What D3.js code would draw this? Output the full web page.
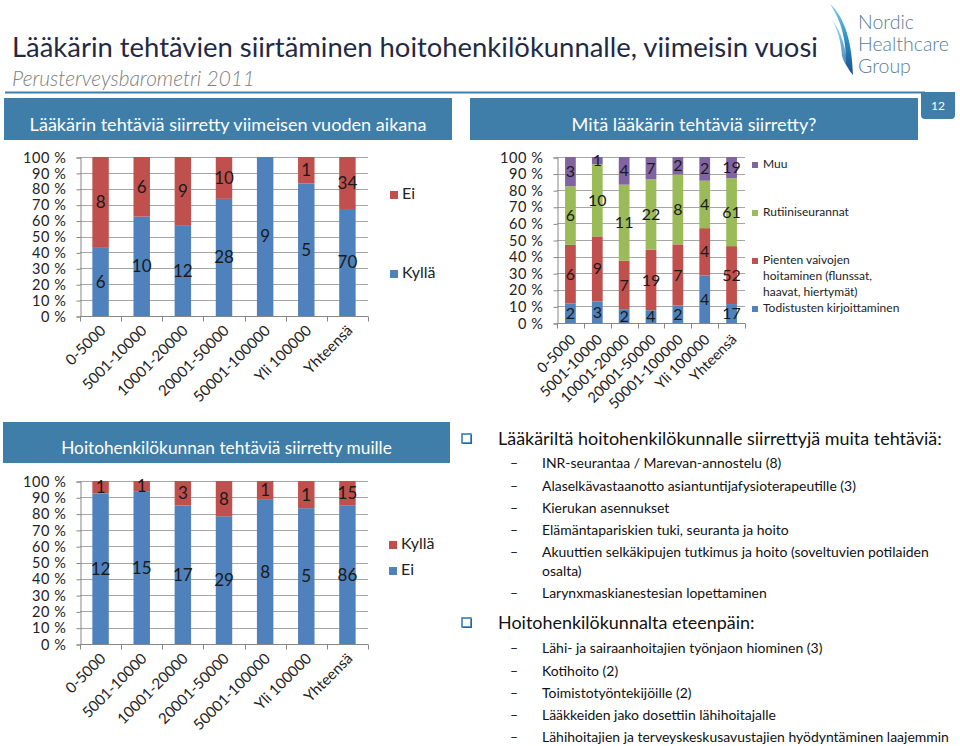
<!DOCTYPE html>
<html><head><meta charset="utf-8">
<script src="https://cdn.jsdelivr.net/npm/d3@7"></script>
<style>body{margin:0;background:#fff} svg{display:block}</style>
</head><body>
<svg id="c" width="960" height="746"></svg>
<script>
// ---------- DATA ----------
const categories = ["0-5000","5001-10000","10001-20000","20001-50000","50001-100000","Yli 100000","Yhteensä"];
const yTickValues = [0,0.1,0.2,0.3,0.4,0.5,0.6,0.7,0.8,0.9,1];
const yTickLabels = ["0 %","10 %","20 %","30 %","40 %","50 %","60 %","70 %","80 %","90 %","100 %"];

// Chart 1: Lääkärin tehtäviä siirretty viimeisen vuoden aikana
const c1Kylla = [6,10,12,28,9,5,70];
const c1Ei    = [8,6,9,10,0,1,34];

// Chart 2: Mitä lääkärin tehtäviä siirretty?
const c2Todistusten = [2,3,2,4,2,4,17];
const c2Pienten     = [6,9,7,19,7,4,52];
const c2Rutiini     = [6,10,11,22,8,4,61];
const c2Muu         = [3,1,4,7,2,2,19];

// Chart 3: Hoitohenkilökunnan tehtäviä siirretty muille
const c3Ei    = [12,15,17,29,8,5,86];
const c3Kylla = [1,1,3,8,1,1,15];

const titleText = "Lääkärin tehtävien siirtäminen hoitohenkilökunnalle, viimeisin vuosi";
const subtitleText = "Perusterveysbarometri 2011";
const header1 = "Lääkärin tehtäviä siirretty viimeisen vuoden aikana";
const header2 = "Mitä lääkärin tehtäviä siirretty?";
const header3 = "Hoitohenkilökunnan tehtäviä siirretty muille";
const bullet1 = "Lääkäriltä hoitohenkilökunnalle siirrettyjä muita tehtäviä:";
const bullet1Items = [
  ["INR-seurantaa / Marevan-annostelu (8)"],
  ["Alaselkävastaanotto asiantuntijafysioterapeutille (3)"],
  ["Kierukan asennukset"],
  ["Elämäntapariskien tuki, seuranta ja hoito"],
  ["Akuuttien selkäkipujen tutkimus ja hoito (soveltuvien potilaiden","osalta)"],
  ["Larynxmaskianestesian lopettaminen"]
];
const bullet2 = "Hoitohenkilökunnalta eteenpäin:";
const bullet2Items = [
  ["Lähi- ja sairaanhoitajien työnjaon hiominen (3)"],
  ["Kotihoito (2)"],
  ["Toimistotyöntekijöille (2)"],
  ["Lääkkeiden jako dosettiin lähihoitajalle"],
  ["Lähihoitajien ja terveyskeskusavustajien hyödyntäminen laajemmin"]
];
const pageNumber = "12";
const logoLines = ["Nordic","Healthcare","Group"];

// ---------- STYLE ----------
const FONT = "Lato, 'Open Sans', sans-serif";
const BLUE = "#4f81bd", RED = "#c0504d", GREEN = "#9bbb59", PURPLE = "#8064a2";
const HEAD = "#3e7ea9";
const svg = d3.select("#c").style("font-family", FONT);

function fitText(sel, width) {
  const node = sel.node();
  const fs = parseFloat(sel.attr("font-size"));
  const w = node.getComputedTextLength();
  sel.attr("font-size", (fs * width / w).toFixed(2));
}

// ---------- TITLE ----------
const t = svg.append("text").attr("x", 12).attr("y", 57).attr("font-size", 27)
  .attr("fill", "#1f2a44").text(titleText);
fitText(t, 806);
const st = svg.append("text").attr("x", 12).attr("y", 86).attr("font-size", 19)
  .attr("font-style", "italic").attr("fill", "#808080").attr("font-weight", 300).text(subtitleText);
fitText(st, 243);
svg.append("line").attr("x1", 5).attr("x2", 925).attr("y1", 92.5).attr("y2", 92.5)
  .attr("stroke", HEAD).attr("stroke-width", 2);

// page number box
svg.append("rect").attr("x", 921).attr("y", 92).attr("width", 34).attr("height", 27).attr("rx", 4).attr("fill", HEAD);
svg.append("rect").attr("x", 921).attr("y", 92).attr("width", 34).attr("height", 6).attr("fill", HEAD);
svg.append("text").attr("x", 938).attr("y", 110).attr("text-anchor", "middle").attr("font-size", 12)
  .attr("fill", "#fff").text(pageNumber);

// logo
const defs = svg.append("defs");
const grad = defs.append("linearGradient").attr("id", "sw").attr("x1", 0).attr("y1", 0).attr("x2", 0).attr("y2", 1);
grad.append("stop").attr("offset", 0).attr("stop-color", "#7fd0e8");
grad.append("stop").attr("offset", 0.5).attr("stop-color", "#2a8fc4");
grad.append("stop").attr("offset", 1).attr("stop-color", "#1b4f8c");
svg.append("path").attr("d", "M830,4 C846,18 852,45 853,75 C850,72 848,68 846,64 C846,40 842,22 830,4 Z").attr("fill", "url(#sw)");
svg.append("path").attr("d", "M832,20 C842,32 846,50 848,68 C845,64 843,60 842,56 C841,42 838,30 832,20 Z").attr("fill", "url(#sw)").attr("opacity", 0.7);
logoLines.forEach((s, i) => {
  const lt = svg.append("text").attr("x", 858).attr("y", 29 + i * 22).attr("font-size", 19.5).attr("font-weight", 300)
    .attr("fill", "#5b7e93").text(s);
});

// ---------- HEADER BOXES ----------
function headerBox(x, y, w, h, text, tw) {
  svg.append("rect").attr("x", x).attr("y", y).attr("width", w).attr("height", h).attr("fill", HEAD);
  const tt = svg.append("text").attr("x", x + w / 2).attr("y", y + h - 9).attr("text-anchor", "middle")
    .attr("font-size", 18).attr("fill", "#fff").text(text);
  fitText(tt, tw);
}
headerBox(4, 98, 448, 42, header1, 397);
headerBox(470, 98, 448, 42, header2, 245);
headerBox(3, 422, 447, 41, header3, 331);

// ---------- STACKED CHART ----------
function stackedChart(o) {
  const g = svg.append("g");
  const x = d3.scaleBand().domain(categories).range([o.x0, o.x1]).paddingInner(0.6).paddingOuter(0.3);
  const xb = d3.scaleBand().domain(categories).range([o.x0, o.x1]);
  const y = d3.scaleLinear().domain([0, 1]).range([o.yb, o.yt]);
  // gridlines
  g.append("g").selectAll("line").data(yTickValues.slice(1)).join("line")
    .attr("x1", o.x0).attr("x2", o.x1).attr("y1", d => Math.round(y(d)) + 0.5).attr("y2", d => Math.round(y(d)) + 0.5)
    .attr("stroke", "#a6a6a6").attr("stroke-width", 1);
  // y axis
  const ya = d3.axisLeft(y).tickValues(yTickValues).tickFormat((d, i) => yTickLabels[i]).tickSize(4).tickPadding(10);
  const yg = g.append("g").attr("transform", `translate(${o.x0 + 0.5},0.5)`).call(ya);
  yg.select(".domain").attr("stroke", "#868686");
  yg.selectAll(".tick line").attr("stroke", "#868686");
  yg.selectAll("text").attr("font-size", o.tickFs).attr("font-family", FONT).attr("fill", "#222")
    .attr("letter-spacing", 0.6);
  // stack
  const rows = categories.map((c, i) => {
    const r = { cat: c };
    o.series.forEach(s => r[s.name] = s.values[i]);
    return r;
  });
  const stack = d3.stack().keys(o.series.map(s => s.name)).offset(d3.stackOffsetExpand);
  const layers = stack(rows);
  layers.forEach((layer, li) => {
    const s = o.series[li];
    g.append("g").selectAll("rect").data(layer).join("rect")
      .attr("x", d => x(d.data.cat)).attr("width", x.bandwidth())
      .attr("y", d => y(d[1])).attr("height", d => y(d[0]) - y(d[1]))
      .attr("fill", s.color);
    g.append("g").selectAll("text").data(layer.filter(d => d.data[s.name] > 0)).join("text")
      .attr("x", d => x(d.data.cat) + x.bandwidth() / 2)
      .attr("y", d => (y(d[0]) + y(d[1])) / 2).attr("dy", "0.35em")
      .attr("text-anchor", "middle").attr("font-size", o.labelFs).attr("fill", "#1a1a1a")
      .text(d => d.data[s.name]);
  });
  // x axis
  const xg = g.append("g").attr("transform", `translate(0,${o.yb + 0.5})`);
  xg.append("line").attr("x1", o.x0).attr("x2", o.x1).attr("stroke", "#868686");
  const ticks = categories.map(c => xb(c)).concat([o.x1]);
  xg.selectAll("line.t").data(ticks).join("line").attr("class", "t")
    .attr("x1", d => Math.round(d) + 0.5).attr("x2", d => Math.round(d) + 0.5).attr("y1", 0).attr("y2", 5)
    .attr("stroke", "#868686");
  xg.selectAll("text").data(categories).join("text")
    .attr("transform", c => `translate(${x(c) + x.bandwidth() / 2 + o.lblDx},${o.lblDy}) rotate(-45)`)
    .attr("text-anchor", "end").attr("font-size", o.xFs).attr("fill", "#222").text(c => c);
  // legend
  o.legend.forEach(l => {
    g.append("rect").attr("x", o.legX).attr("y", l.y - o.sq).attr("width", o.sq).attr("height", o.sq).attr("fill", l.color);
    l.lines.forEach((ln, k) => {
      g.append("text").attr("x", o.legX + o.sq + o.legGap).attr("y", l.y + k * o.legLine).attr("font-size", o.legFs)
        .attr("fill", "#222").text(ln);
    });
  });
}

stackedChart({
  x0: 80, x1: 368, yb: 316, yt: 157, tickFs: 14.5, labelFs: 17, xFs: 15, lblDx: 6, lblDy: 15,
  series: [{ name: "Kyllä", values: c1Kylla, color: BLUE }, { name: "Ei", values: c1Ei, color: RED }],
  legX: 390, sq: 8, legGap: 4, legFs: 16, legLine: 18,
  legend: [{ y: 199, color: RED, lines: ["Ei"] }, { y: 278, color: BLUE, lines: ["Kyllä"] }]
});

stackedChart({
  x0: 557, x1: 745, yb: 323, yt: 157, tickFs: 14.5, labelFs: 16, xFs: 14.5, lblDx: 6, lblDy: 17,
  series: [
    { name: "Todistusten", values: c2Todistusten, color: BLUE },
    { name: "Pienten", values: c2Pienten, color: RED },
    { name: "Rutiini", values: c2Rutiini, color: GREEN },
    { name: "Muu", values: c2Muu, color: PURPLE }
  ],
  legX: 752, sq: 6, legGap: 5, legFs: 12, legLine: 16,
  legend: [
    { y: 168, color: PURPLE, lines: ["Muu"] },
    { y: 216, color: GREEN, lines: ["Rutiiniseurannat"] },
    { y: 264, color: RED, lines: ["Pienten vaivojen", "hoitaminen (flunssat,", "haavat, hiertymät)"] },
    { y: 312, color: BLUE, lines: ["Todistusten kirjoittaminen"] }
  ]
});

stackedChart({
  x0: 80, x1: 368, yb: 644, yt: 481, tickFs: 14.5, labelFs: 17, xFs: 15, lblDx: 6, lblDy: 15,
  series: [{ name: "Ei", values: c3Ei, color: BLUE }, { name: "Kyllä", values: c3Kylla, color: RED }],
  legX: 389, sq: 8, legGap: 4, legFs: 16, legLine: 18,
  legend: [{ y: 549, color: RED, lines: ["Kyllä"] }, { y: 575, color: BLUE, lines: ["Ei"] }]
});

// ---------- TEXT LIST ----------
function bulletSquare(x, y) {
  svg.append("rect").attr("x", x + 1).attr("y", y + 1).attr("width", 9).attr("height", 9).attr("fill", "#17375e");
  svg.append("rect").attr("x", x).attr("y", y).attr("width", 9).attr("height", 9).attr("fill", "#fff")
    .attr("stroke", "#2e75b6").attr("stroke-width", 1.5);
}
bulletSquare(462, 434);
const h1 = svg.append("text").attr("x", 498).attr("y", 445).attr("font-size", 17).attr("fill", "#111").text(bullet1);
fitText(h1, 444);
const headFs = h1.attr("font-size");

// measure sub-item font size using the longest line
const probe = svg.append("text").attr("font-size", 14).text(bullet2Items[4][0]);
fitText(probe, 407);
const itemFs = probe.attr("font-size");
probe.remove();

const item1Y = [468, 491, 513, 535, 557, 598];
bullet1Items.forEach((lines, i) => {
  svg.append("text").attr("x", 510).attr("y", item1Y[i]).attr("font-size", itemFs).attr("fill", "#111").text("–");
  lines.forEach((ln, k) => {
    svg.append("text").attr("x", 542).attr("y", item1Y[i] + k * 19).attr("font-size", itemFs).attr("fill", "#111").text(ln);
  });
});
bulletSquare(462, 618);
svg.append("text").attr("x", 498).attr("y", 629).attr("font-size", headFs).attr("fill", "#111").text(bullet2);
const item2Y = [653, 676, 698, 720, 742];
bullet2Items.forEach((lines, i) => {
  svg.append("text").attr("x", 510).attr("y", item2Y[i]).attr("font-size", itemFs).attr("fill", "#111").text("–");
  lines.forEach((ln, k) => {
    svg.append("text").attr("x", 542).attr("y", item2Y[i] + k * 19).attr("font-size", itemFs).attr("fill", "#111").text(ln);
  });
});
</script>
</body></html>
